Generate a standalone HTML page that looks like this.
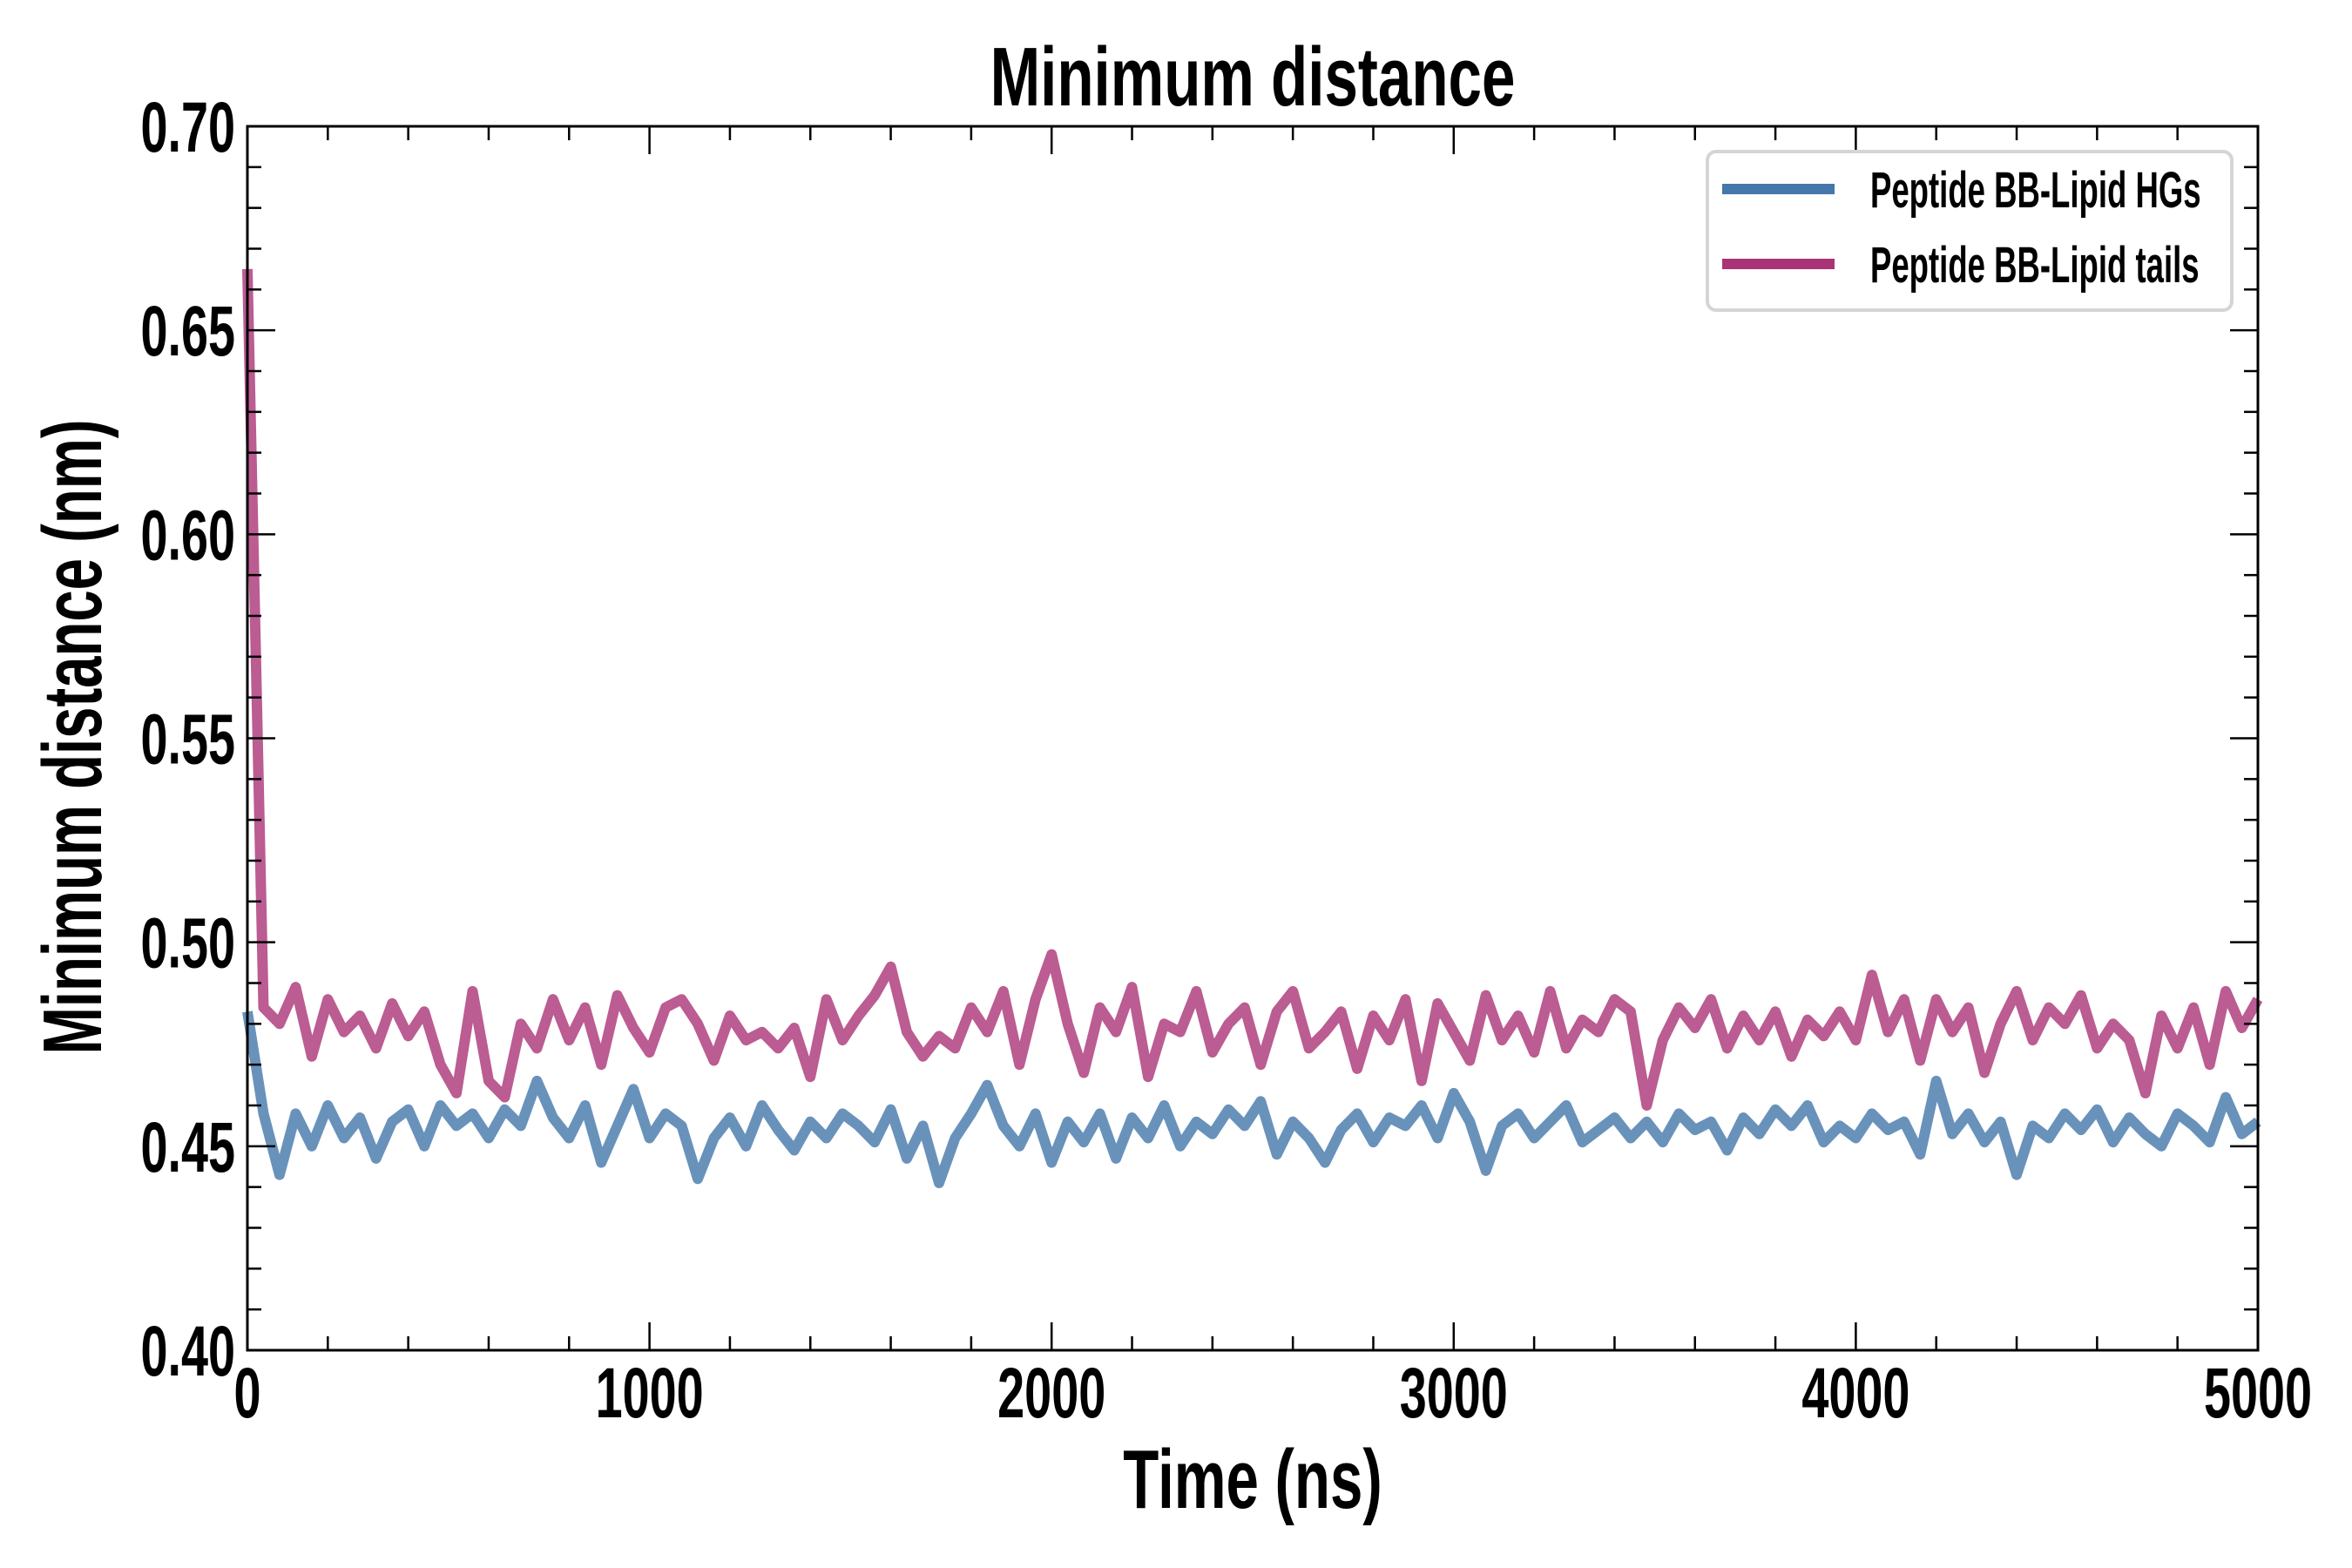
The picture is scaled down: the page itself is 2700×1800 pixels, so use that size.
<!DOCTYPE html>
<html><head><meta charset="utf-8"><style>
html,body{margin:0;padding:0;background:#fff;}
svg{display:block;}
text{font-family:"Liberation Sans",sans-serif;font-weight:bold;fill:#000;}
</style></head><body>
<svg id="chart" width="2700" height="1800" viewBox="0 0 2700 1800" xmlns="http://www.w3.org/2000/svg">
<g id="series"></g>
<g id="axes"></g>
<text x="1438" y="121" text-anchor="middle" font-size="96" transform="translate(1438,0) scale(0.72,1) translate(-1438,0)">Minimum distance</text>
<text x="1438" y="1731" text-anchor="middle" font-size="96" transform="translate(1438,0) scale(0.70,1) translate(-1438,0)">Time (ns)</text>
<text x="0" y="0" text-anchor="middle" font-size="96" transform="translate(116,846) rotate(-90) scale(0.68,1)">Minimum distance (nm)</text>
<g>
<rect x="1960" y="174" width="602" height="182" rx="10" fill="#fff" stroke="#d5d5d5" stroke-width="4"/>
<line x1="1977" y1="217" x2="2106" y2="217" stroke="#4477aa" stroke-width="12"/>
<text x="2147" y="238" font-size="58" transform="translate(2147,0) scale(0.63,1) translate(-2147,0)">Peptide BB-Lipid HGs</text>
<line x1="1977" y1="303" x2="2106" y2="303" stroke="#aa3377" stroke-width="12"/>
<text x="2147" y="324" font-size="58" transform="translate(2147,0) scale(0.63,1) translate(-2147,0)">Peptide BB-Lipid tails</text>
</g>
</svg>
<script>
const xTicks = [0, 1000, 2000, 3000, 4000, 5000];
const yTicks = [0.40, 0.45, 0.50, 0.55, 0.60, 0.65, 0.70];
const yTickLabels = ["0.40","0.45","0.50","0.55","0.60","0.65","0.70"];
const tailsValues = [0.665,0.484,0.480,0.489,0.472,0.486,0.478,0.482,0.474,0.485,0.477,0.483,0.470,0.463,0.488,0.466,0.462,0.480,0.474,0.486,0.476,0.484,0.470,0.487,0.479,0.473,0.484,0.486,0.480,0.471,0.482,0.476,0.478,0.474,0.479,0.467,0.486,0.476,0.482,0.487,0.494,0.478,0.472,0.477,0.474,0.484,0.478,0.488,0.470,0.486,0.497,0.480,0.468,0.484,0.478,0.489,0.467,0.480,0.478,0.488,0.473,0.480,0.484,0.470,0.483,0.488,0.474,0.478,0.483,0.469,0.482,0.476,0.486,0.466,0.485,0.478,0.471,0.487,0.476,0.482,0.473,0.488,0.474,0.481,0.478,0.486,0.483,0.460,0.476,0.484,0.479,0.486,0.474,0.482,0.476,0.483,0.472,0.481,0.477,0.483,0.476,0.492,0.478,0.486,0.471,0.486,0.478,0.484,0.468,0.480,0.488,0.476,0.484,0.480,0.487,0.474,0.480,0.476,0.463,0.482,0.474,0.484,0.470,0.488,0.479,0.486];
const hgsValues = [0.483,0.458,0.443,0.458,0.450,0.460,0.452,0.457,0.447,0.456,0.459,0.450,0.460,0.455,0.458,0.452,0.459,0.455,0.466,0.457,0.452,0.460,0.446,0.455,0.464,0.452,0.458,0.455,0.442,0.452,0.457,0.450,0.460,0.454,0.449,0.456,0.452,0.458,0.455,0.451,0.459,0.447,0.455,0.441,0.452,0.458,0.465,0.455,0.450,0.458,0.446,0.456,0.451,0.458,0.447,0.457,0.452,0.460,0.450,0.456,0.453,0.459,0.455,0.461,0.448,0.456,0.452,0.446,0.454,0.458,0.451,0.457,0.455,0.460,0.452,0.463,0.456,0.444,0.455,0.458,0.452,0.456,0.460,0.451,0.454,0.457,0.452,0.456,0.451,0.458,0.454,0.456,0.449,0.457,0.453,0.459,0.455,0.460,0.451,0.455,0.452,0.458,0.454,0.456,0.448,0.466,0.453,0.458,0.451,0.456,0.443,0.455,0.452,0.458,0.454,0.459,0.451,0.457,0.453,0.450,0.458,0.455,0.451,0.462,0.453,0.456];
const X0=284, X1=2592, Y0=145, Y1=1550;
const xMin=0, xMax=5000, yMin=0.40, yMax=0.70;
function sx(v){return X0+(v-xMin)/(xMax-xMin)*(X1-X0);}
function sy(v){return Y1-(v-yMin)/(yMax-yMin)*(Y1-Y0);}
const NS="http://www.w3.org/2000/svg";
const series=document.getElementById('series');
function drawSeries(vals,color,name){
  const dt=(xMax-xMin)/(vals.length-1);
  const d=vals.map((v,i)=>(i?'L':'M')+sx(xMin+i*dt).toFixed(1)+','+sy(v).toFixed(1)).join(' ');
  const p=document.createElementNS(NS,'path');
  p.setAttribute('d',d);p.setAttribute('fill','none');p.setAttribute('stroke',color);
  p.setAttribute('stroke-width','12');p.setAttribute('stroke-linejoin','round');p.setAttribute('stroke-opacity','0.8');
  
  
  series.appendChild(p);
}
drawSeries(tailsValues,'#aa3377','tails-line');
drawSeries(hgsValues,'#4477aa','hgs-line');
const axes=document.getElementById('axes');
function ln(x1,y1,x2,y2,w){const l=document.createElementNS(NS,'line');l.setAttribute('x1',x1);l.setAttribute('y1',y1);l.setAttribute('x2',x2);l.setAttribute('y2',y2);l.setAttribute('stroke','#000');l.setAttribute('stroke-width',w);axes.appendChild(l);return l;}
const frame=document.createElementNS(NS,'rect');
frame.setAttribute('x',X0);frame.setAttribute('y',Y0);frame.setAttribute('width',X1-X0);frame.setAttribute('height',Y1-Y0);
frame.setAttribute('fill','none');frame.setAttribute('stroke','#000');frame.setAttribute('stroke-width','3');


axes.appendChild(frame);
for(let v=0;v<=5000;v+=200){const maj=v%1000===0;const L=maj?32:16;const x=sx(v);
  const a=ln(x,Y1,x,Y1-L,2.5);
  const b=ln(x,Y0,x,Y0+L,2.5);}
for(let k=0;k<=30;k++){const v=0.40+k*0.01;const maj=k%5===0;const L=maj?32:16;const y=sy(v);
  const a=ln(X0,y,X0+L,y,2.5);
  const b=ln(X1,y,X1-L,y,2.5);}
function txt(x,y,s,anchor){const t=document.createElementNS(NS,'text');t.setAttribute('x',x);t.setAttribute('y',y);t.setAttribute('font-size','82');t.setAttribute('text-anchor',anchor);t.setAttribute('transform',`translate(${x},0) scale(0.68,1) translate(${-x},0)`);t.textContent=s;axes.appendChild(t);return t;}
xTicks.forEach(v=>{const t=txt(sx(v),1627,String(v),'middle');
  
  });
yTicks.forEach((v,i)=>{const t=txt(270,sy(v)+29,yTickLabels[i],'end');
  
  });
</script>
</body></html>
